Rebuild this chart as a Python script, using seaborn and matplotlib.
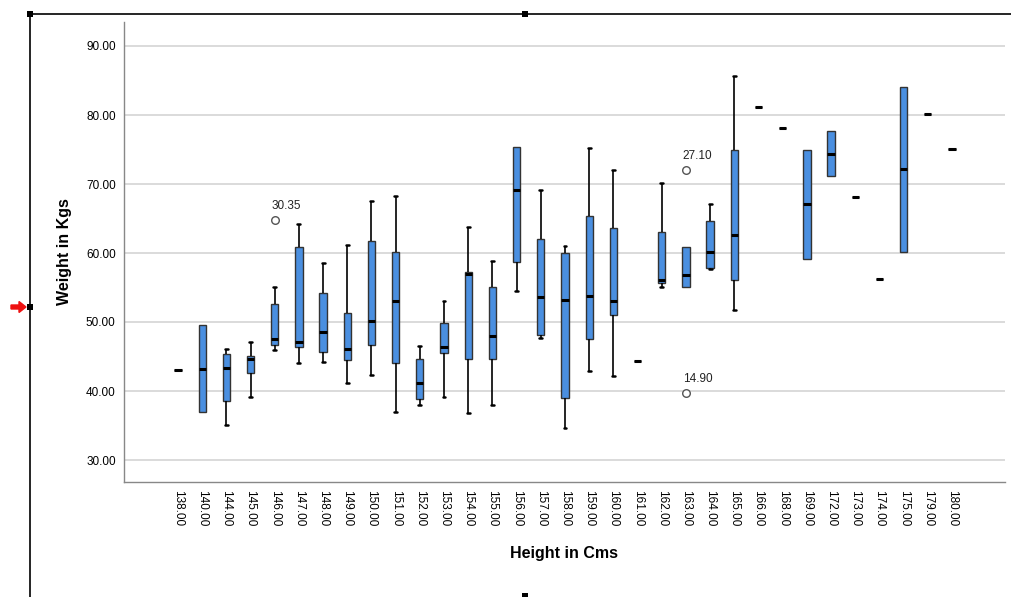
import numpy as np
import pandas as pd
import seaborn as sns
import matplotlib.pyplot as plt
from matplotlib.lines import Line2D
from matplotlib.patches import Rectangle, FancyArrow

heights = ["138.00", "140.00", "144.00", "145.00", "146.00", "147.00", "148.00",
           "149.00", "150.00", "151.00", "152.00", "153.00", "154.00", "155.00",
           "156.00", "157.00", "158.00", "159.00", "160.00", "161.00", "162.00",
           "163.00", "164.00", "165.00", "166.00", "168.00", "169.00", "172.00",
           "173.00", "174.00", "175.00", "179.00", "180.00"]

w_min = [43.0, 36.9, 35.1, 39.1, 45.9, 44.1, 44.2, 41.2, 42.3, 36.9, 38.0, 39.1,
         36.8, 38.0, 54.5, 47.7, 34.6, 42.9, 42.2, 44.35, 55.1, 55.1, 57.7, 51.8,
         81.1, 78.1, 59.1, 71.1, 68.1, 56.3, 60.1, 80.1, 75.1]
w_q1 = [43.0, 36.9, 38.6, 42.6, 46.6, 46.4, 45.6, 44.5, 46.7, 44.1, 38.9, 45.5,
        44.7, 44.7, 58.7, 48.1, 39.0, 47.5, 51.0, 44.35, 55.7, 55.1, 57.8, 56.1,
        81.1, 78.1, 59.1, 71.1, 68.1, 56.3, 60.1, 80.1, 75.1]
w_med = [43.0, 43.2, 43.4, 44.7, 47.6, 47.1, 48.5, 46.1, 50.1, 53.1, 41.2, 46.4,
         56.9, 47.9, 69.1, 53.6, 53.2, 53.7, 53.1, 44.35, 56.1, 56.8, 60.1, 62.6,
         81.1, 78.1, 67.1, 74.4, 68.1, 56.3, 72.2, 80.1, 75.1]
w_q3 = [43.0, 49.5, 45.4, 45.1, 52.6, 60.9, 54.2, 51.3, 61.7, 60.1, 44.6, 49.8,
        57.2, 55.1, 75.4, 62.1, 60.05, 65.4, 63.6, 44.35, 63.1, 60.8, 64.6, 74.9,
        81.1, 78.1, 75.0, 77.7, 68.1, 56.3, 84.1, 80.1, 75.1]
w_max = [43.0, 49.5, 46.1, 47.1, 55.1, 64.2, 58.6, 61.2, 67.6, 68.2, 46.5, 53.1,
         63.8, 58.8, 75.4, 69.1, 61.0, 75.2, 72.1, 44.35, 70.1, 60.8, 67.1, 85.6,
         81.1, 78.1, 75.0, 77.7, 68.1, 56.3, 84.1, 80.1, 75.1]

out_height = ["146.00", "163.00", "163.00"]
out_weight = [64.8, 72.1, 39.7]
out_label = ["30.35", "27.10", "14.90"]

yticks = [30, 40, 50, 60, 70, 80, 90]

rows = []
for h, a, b, c, d, e in zip(heights, w_min, w_q1, w_med, w_q3, w_max):
    for v in (a, b, c, d, e):
        rows.append((h, v))
df = pd.DataFrame(rows, columns=["Height", "Weight"])

sns.set_theme(style="white")
plt.rcParams["font.family"] = ["Liberation Sans", "DejaVu Sans"]
plt.rcParams["text.color"] = "black"
plt.rcParams["axes.labelcolor"] = "black"

fig = plt.figure(figsize=(10.12, 5.97), dpi=100)
ax = fig.add_axes([124 / 1012, 1 - 482 / 597, (1005 - 124) / 1012, (482 - 22) / 597])

sns.boxplot(data=df, x="Height", y="Weight", order=heights, ax=ax,
            color="#4a8fe0", saturation=1, width=0.3, whis=np.inf,
            linecolor="#333333", linewidth=1.0, showfliers=False,
            capwidths=0.12,
            medianprops=dict(color="black", linewidth=2.2),
            whiskerprops=dict(color="black", linewidth=1.2),
            capprops=dict(color="black", linewidth=1.8),
            boxprops=dict(edgecolor="#333333", linewidth=1.0))

# hide caps where the whisker has zero length (as SPSS draws them)
for ln in ax.lines:
    xd, yd = np.asarray(ln.get_xdata(), float), np.asarray(ln.get_ydata(), float)
    if len(xd) == 2 and yd[0] == yd[1] and abs(abs(xd[1] - xd[0]) - 0.12) < 1e-6:
        i = int(round(xd.mean()))
        y = yd[0]
        if w_min[i] != w_max[i]:
            if (abs(y - w_min[i]) < 1e-9 and w_min[i] == w_q1[i]) or \
               (abs(y - w_max[i]) < 1e-9 and w_max[i] == w_q3[i]):
                ln.set_visible(False)
        else:
            ln.set_visible(False)

pos = {h: i for i, h in enumerate(heights)}
xs = [pos[h] for h in out_height]
ax.scatter(xs, out_weight, s=30, facecolor="white", edgecolor="#555555",
           linewidth=1.0, zorder=5)
for x, y, t in zip(xs, out_weight, out_label):
    ax.annotate(t, (x, y), xytext=(-3, 8), textcoords="offset pixels",
                ha="left", va="bottom", fontsize=8.5, color="#222222")

ax.set_xlim(-2.23, len(heights) - 1 + 2.19)
ax.set_ylim(30 - 22 / 6.9, 30 + 438 / 6.9)
ax.set_yticks(yticks)
ax.set_yticklabels([f"{v:.2f}" for v in yticks], fontsize=8.5)
ax.set_xticks(range(len(heights)))
ax.set_xticklabels(heights, rotation=270, fontsize=8.5)
ax.tick_params(axis="both", length=0, pad=6, colors="black")
ax.yaxis.grid(True, color="#d4d4d4", linewidth=1.2)
ax.set_axisbelow(True)
for s in ("top", "right"):
    ax.spines[s].set_visible(False)
for s in ("left", "bottom"):
    ax.spines[s].set_color("#888888")
    ax.spines[s].set_linewidth(1.0)

ax.set_xlabel("Height in Cms", fontsize=11.5, fontweight="bold", labelpad=14)
ax.set_ylabel("Weight in Kgs", fontsize=11.5, fontweight="bold", labelpad=10)

# SPSS selection frame decorations (figure pixel coords)
W, H = 1012, 597
def fx(x): return x / W
def fy(y): return 1 - y / H
fig.add_artist(Line2D([fx(30), fx(1012)], [fy(14), fy(14)], color="black", lw=1.2))
fig.add_artist(Line2D([fx(30), fx(30)], [fy(14), fy(597)], color="black", lw=1.2))
for (px, py) in [(30, 14), (525, 14), (30, 307), (525, 596)]:
    fig.add_artist(Rectangle((fx(px - 3), fy(py + 3)), 6 / W, 6 / H,
                             facecolor="black", edgecolor="none"))
fig.add_artist(FancyArrow(fx(11), fy(307), fx(15), 0, width=4 / H,
                          head_width=11 / H, head_length=fx(7),
                          length_includes_head=True, color="#ee1111"))

fig.savefig("out.png", dpi=100)
